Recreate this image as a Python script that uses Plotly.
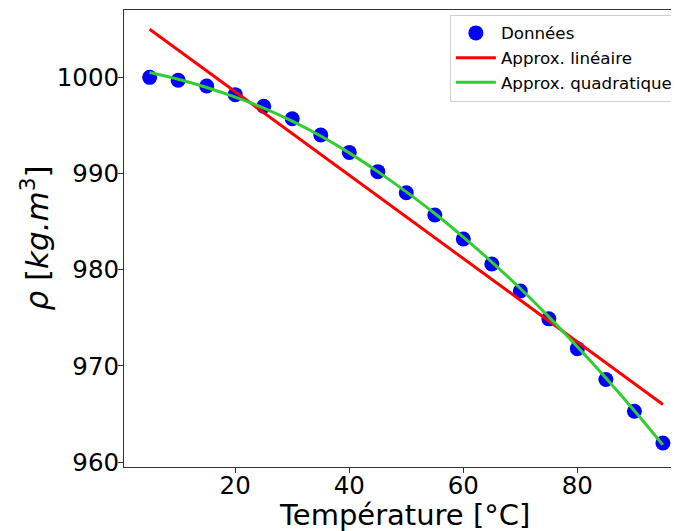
import plotly.graph_objects as go

# Data: water density vs temperature
temperature = [5, 10, 15, 20, 25, 30, 35, 40, 45, 50, 55, 60, 65, 70, 75, 80, 85, 90, 95]
density = [1000.0, 999.7, 999.1, 998.2, 997.0, 995.7, 994.0, 992.2, 990.2, 988.0,
           985.7, 983.2, 980.6, 977.8, 974.9, 971.8, 968.6, 965.3, 962.0]

# Linear approximation (endpoints)
lin_x = [5, 95]
lin_y = [1005.0, 966.0]

# Quadratic approximation
quad_x = temperature
quad_y = [1000.5, 999.8, 998.95, 997.95, 996.8, 995.45, 993.9, 992.15, 990.2, 988.1,
          985.85, 983.4, 980.8, 978.05, 975.1, 972.0, 968.75, 965.35, 961.8]

x_ticks = [20, 40, 60, 80]
y_ticks = [960, 970, 980, 990, 1000]

FONT = "DejaVu Sans"

fig = go.Figure()
fig.add_trace(go.Scatter(x=temperature, y=density, mode="markers", name="Données",
                         legendgroup="a",
                         marker=dict(color="#0000ff", size=15, line=dict(width=0))))
fig.add_trace(go.Scatter(x=lin_x, y=lin_y, mode="lines", name="Approx. linéaire",
                         legendgroup="b",
                         line=dict(color="#ff0000", width=3)))
fig.add_trace(go.Scatter(x=quad_x, y=quad_y, mode="lines", name="Approx. quadratique",
                         legendgroup="c",
                         line=dict(color="#32cd32", width=3, shape="spline")))

# The page body adds an 8px offset, so the figure is sized to the visible area.
fig.update_layout(
    width=671, height=523,
    margin=dict(l=116, r=0, t=2, b=64),
    paper_bgcolor="white", plot_bgcolor="white",
    font=dict(family=FONT, color="black"),
    showlegend=True,
    legend=dict(x=0.998, xanchor="right", y=0.99, yanchor="top",
                bgcolor="white", bordercolor="#d0d0d0", borderwidth=1,
                font=dict(size=16.7, family=FONT), traceorder="grouped",
                tracegroupgap=0, itemwidth=40),
    xaxis=dict(range=[0.5, 97.82], tickvals=x_ticks, ticktext=[str(v) for v in x_ticks],
               showgrid=False, zeroline=False, showline=True, linecolor="#333", linewidth=1,
               mirror=True, ticks="outside", ticklen=5, tickcolor="#333",
               tickfont=dict(size=24.5), automargin=False, ticklabelstandoff=-8),
    yaxis=dict(range=[959.5, 1007.0], tickvals=y_ticks, ticktext=[str(v) for v in y_ticks],
               showgrid=False, zeroline=False, showline=True, linecolor="#333", linewidth=1,
               ticks="outside", ticklen=5, tickcolor="#333",
               tickfont=dict(size=24.5), automargin=False, ticklabelstandoff=-6),
    annotations=[
        dict(text="Température [°C]", xref="paper", yref="paper", x=0.506, y=-0.105,
             xanchor="center", yanchor="middle", showarrow=False, font=dict(size=29)),
        dict(text="<i>ρ</i> [<i>kg.m</i><sup>3</sup>]", xref="paper", yref="paper",
             x=-0.162, y=0.5, xanchor="center", yanchor="middle", textangle=-90,
             showarrow=False, font=dict(size=31)),
    ],
)

fig.write_html("out.html")
